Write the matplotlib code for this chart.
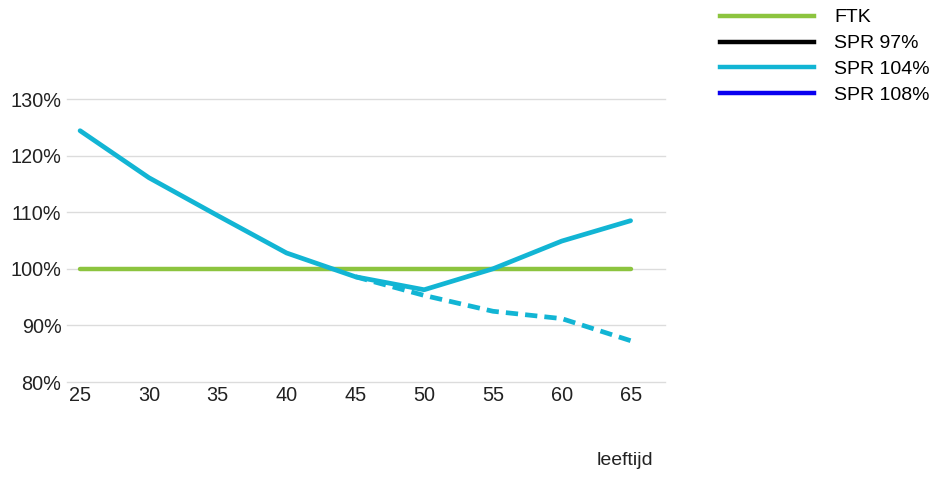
import matplotlib
matplotlib.use("Agg")
import matplotlib.pyplot as plt
from matplotlib.lines import Line2D

plt.rcParams['font.family'] = ['Liberation Sans', 'DejaVu Sans']

ages = [25, 30, 35, 40, 45, 50, 55, 60, 65]
ftk = [100, 100, 100, 100, 100, 100, 100, 100, 100]
spr104 = [124.4, 116.1, 109.4, 102.8, 98.6, 96.3, 100.0, 104.9, 108.5]
ages_dashed = [45, 50, 55, 60, 65]
spr104_dashed = [98.6, 95.3, 92.5, 91.2, 87.3]
yticks = [80, 90, 100, 110, 120, 130]
xticks = [25, 30, 35, 40, 45, 50, 55, 60, 65]

c_green = '#8cc43f'
c_cyan = '#12b5d4'
c_black = '#000000'
c_blue = '#0a00f0'

fig = plt.figure(figsize=(9.37, 4.83), dpi=100)
ax = fig.add_axes([0.0715, 0.2091, 0.6382, 0.5859])

for y in yticks:
    ax.axhline(y, color='#dcdcdc', lw=1.0, zorder=0, clip_on=False)

ax.plot(ages, ftk, color=c_green, lw=3.2, solid_capstyle='round', zorder=2)
ax.plot(ages_dashed, spr104_dashed, color=c_cyan, lw=3.4, ls=(0, (2.6, 1.5)), zorder=3)
ax.plot(ages, spr104, color=c_cyan, lw=3.4, solid_capstyle='round', solid_joinstyle='round', zorder=4)

ax.set_xlim(24.05, 67.5)
ax.set_ylim(80, 130)
ax.set_yticks(yticks)
ax.set_yticklabels([f"{v}%" for v in yticks])
ax.set_xticks(xticks)
for s in ax.spines.values():
    s.set_visible(False)
ax.tick_params(axis='both', length=0, labelsize=14.3, colors='#222222')
ax.tick_params(axis='y', pad=4)
ax.tick_params(axis='x', pad=3)

fig.text(0.667, 0.03, "leeftijd", fontsize=14, color='#222222', ha='center', va='bottom')

handles = [Line2D([], [], color=c_green, lw=3.2),
           Line2D([], [], color=c_black, lw=3.2),
           Line2D([], [], color=c_cyan, lw=3.2),
           Line2D([], [], color=c_blue, lw=3.2)]
labels = ["FTK", "SPR 97%", "SPR 104%", "SPR 108%"]
fig.legend(handles, labels, loc='upper left', bbox_to_anchor=(0.7605, 0.998),
           frameon=False, fontsize=14, handlelength=4.8, handletextpad=1.05,
           labelspacing=0.43, borderaxespad=0.0)

fig.savefig("out.png", dpi=100)
